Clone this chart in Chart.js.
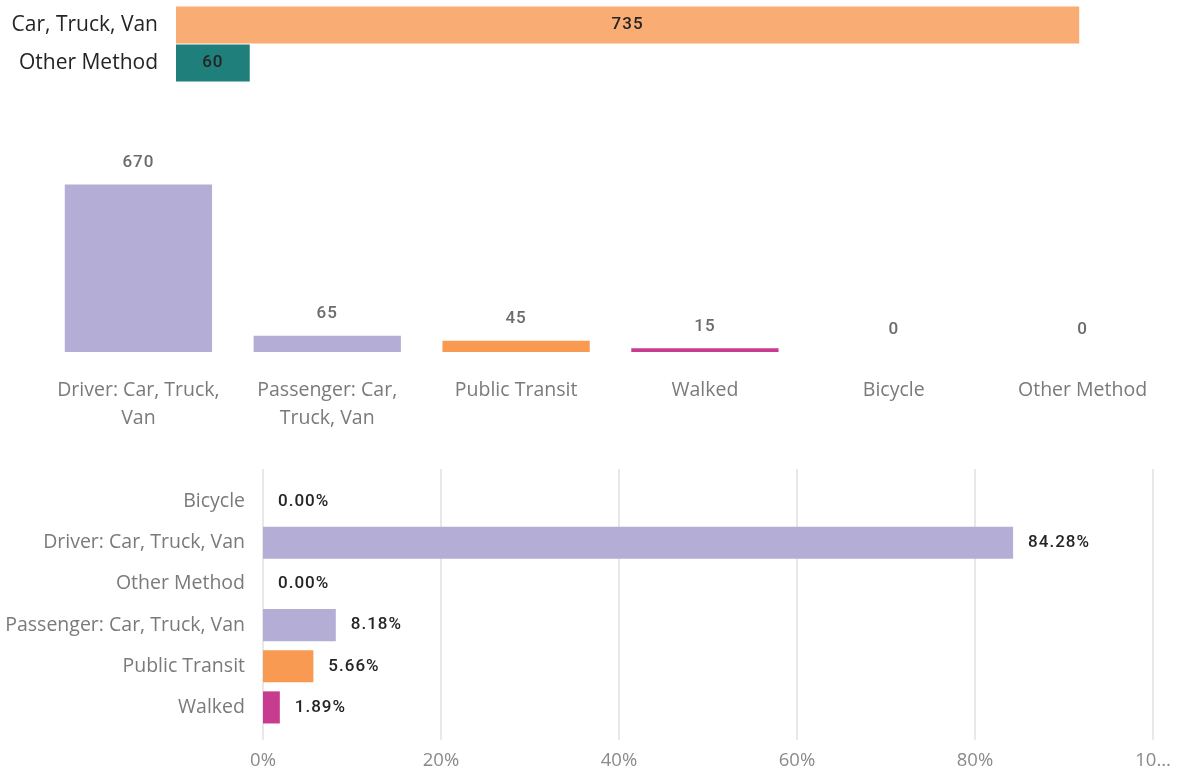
<!DOCTYPE html>
<html>
<head>
<meta charset="utf-8">
<script src="https://cdn.jsdelivr.net/npm/chart.js@4.4.1/dist/chart.umd.min.js"></script>
<style>
  html, body { margin: 0; padding: 0; background: #fff; }
  canvas { position: absolute; left: 0; }
  #groupChart { top: 0; }
  #methodChart { top: 100px; }
  #shareChart { top: 460px; }
</style>
</head>
<body>
<canvas id="groupChart" width="1180" height="90"></canvas>
<canvas id="methodChart" width="1180" height="340"></canvas>
<canvas id="shareChart" width="1180" height="313"></canvas>
<script>
// ========================================
// Data
// ========================================
const groupLabels = ['Car, Truck, Van', 'Other Method'];
const groupValues = [735, 60];
const groupColors = ['#F9AC73', '#1F7F7B'];

const methodLabels = [['Driver: Car, Truck,', 'Van'], ['Passenger: Car,', 'Truck, Van'], 'Public Transit', 'Walked', 'Bicycle', 'Other Method'];
const methodValues = [670, 65, 45, 15, 0, 0];
const methodColors = ['#B4AED6', '#B4AED6', '#F99A52', '#C73C8E', '#B4AED6', '#B4AED6'];

const shareLabels = ['Bicycle', 'Driver: Car, Truck, Van', 'Other Method', 'Passenger: Car, Truck, Van', 'Public Transit', 'Walked'];
const shareValues = [0, 84.28, 0, 8.18, 5.66, 1.89];
const shareColors = ['#B4AED6', '#B4AED6', '#B4AED6', '#B4AED6', '#F99A52', '#C73C8E'];
const shareTicks = [0, 20, 40, 60, 80, 100];

const LABEL_FONT = "'Open Sans', 'Noto Sans', sans-serif";
const VALUE_FONT = "Roboto, 'DejaVu Sans', sans-serif";
const GREY = '#7a7a7a';

Chart.defaults.animation = false;
Chart.defaults.responsive = false;
Chart.defaults.plugins.legend.display = false;
Chart.defaults.plugins.tooltip.enabled = false;

// ========================================
// Helpers
// ========================================
// pin the axis width and drop the extra padding Chart.js adds for tick labels
function fixWidth(w) {
  return function(scale) {
    scale.width = w;
    scale.paddingTop = 0;
    scale.paddingBottom = 0;
  };
}
function fixHeight(h) {
  return function(scale) {
    scale.height = h;
    scale.paddingLeft = 0;
    scale.paddingRight = 0;
  };
}

// draws value text for every bar, placement decided by mode
function valueLabels(mode, fmt, color) {
  return {
    id: 'valueLabels_' + mode,
    afterDatasetsDraw(chart) {
      const ctx = chart.ctx;
      const meta = chart.getDatasetMeta(0);
      const data = chart.data.datasets[0].data;
      ctx.save();
      ctx.font = '500 17px ' + VALUE_FONT;
      ctx.letterSpacing = '1px';
      ctx.fillStyle = color;
      ctx.textBaseline = 'middle';
      meta.data.forEach((bar, i) => {
        const text = fmt(data[i]);
        if (mode === 'center') {
          ctx.textAlign = 'center';
          ctx.fillText(text, (bar.x + bar.base) / 2, bar.y);
        } else if (mode === 'top') {
          ctx.textAlign = 'center';
          ctx.fillText(text, bar.x, bar.y - 22);
        } else {
          ctx.textAlign = 'left';
          ctx.fillText(text, bar.x + 15, bar.y);
        }
      });
      ctx.restore();
    }
  };
}

// vertical gridlines slightly taller than the plot area
const tallGrid = {
  id: 'tallGrid',
  beforeDatasetsDraw(chart) {
    const ctx = chart.ctx;
    const xs = chart.scales.x;
    const area = chart.chartArea;
    ctx.save();
    ctx.strokeStyle = '#e8e8e8';
    ctx.lineWidth = 2;
    xs.ticks.forEach(t => {
      const x = Math.round(xs.getPixelForValue(t.value));
      ctx.beginPath();
      ctx.moveTo(x, area.top - 12);
      ctx.lineTo(x, area.bottom + 12);
      ctx.stroke();
    });
    ctx.restore();
  }
};

// ========================================
// Chart 1 - grouped totals
// ========================================
new Chart(document.getElementById('groupChart'), {
  type: 'bar',
  data: {
    labels: groupLabels,
    datasets: [{ data: groupValues, backgroundColor: groupColors, barPercentage: 0.97, categoryPercentage: 1 }]
  },
  options: {
    indexAxis: 'y',
    layout: { padding: { top: 6, bottom: 8, left: 0, right: 0 } },
    scales: {
      x: { display: false, min: 0, max: 817 },
      y: {
        afterFit: fixWidth(176),
        grid: { display: false },
        border: { display: false },
        ticks: { padding: 10, color: '#252423', font: { family: LABEL_FONT, size: 21 } }
      }
    }
  },
  plugins: [valueLabels('center', v => String(v), '#252423')]
});

// ========================================
// Chart 2 - count by method
// ========================================
new Chart(document.getElementById('methodChart'), {
  type: 'bar',
  data: {
    labels: methodLabels,
    datasets: [{ data: methodValues, backgroundColor: methodColors, barPercentage: 0.78, categoryPercentage: 1 }]
  },
  options: {
    layout: { padding: { top: 52, bottom: 0, left: 44, right: 3 } },
    scales: {
      y: { display: false, min: 0, max: 800 },
      x: {
        afterFit: fixHeight(88),
        grid: { display: false },
        border: { display: false },
        ticks: { padding: 17, color: GREY, maxRotation: 0, autoSkip: false, font: { family: LABEL_FONT, size: 19.5, lineHeight: 1.4 } }
      }
    }
  },
  plugins: [valueLabels('top', v => String(v), '#6b6b6b')]
});

// ========================================
// Chart 3 - share of total
// ========================================
new Chart(document.getElementById('shareChart'), {
  type: 'bar',
  data: {
    labels: shareLabels,
    datasets: [{ data: shareValues, backgroundColor: shareColors, barPercentage: 0.78, categoryPercentage: 1 }]
  },
  options: {
    indexAxis: 'y',
    layout: { padding: { top: 21, bottom: 0, left: 0, right: 27 } },
    scales: {
      x: {
        min: 0,
        max: 100,
        afterFit: fixHeight(45),
        afterBuildTicks: scale => { scale.ticks = shareTicks.map(v => ({ value: v })); },
        grid: { display: false },
        border: { display: false },
        ticks: {
          padding: 14,
          color: '#8a8a8a',
          maxRotation: 0,
          font: { family: LABEL_FONT, size: 18.5 },
          callback: v => (v === 100 ? '10…' : v + '%')
        }
      },
      y: {
        afterFit: fixWidth(263),
        grid: { display: false },
        border: { display: false },
        ticks: { padding: 10, color: GREY, font: { family: LABEL_FONT, size: 19.5 } }
      }
    }
  },
  plugins: [tallGrid, valueLabels('end', v => v.toFixed(2) + '%', '#252423')]
});
</script>
</body>
</html>
